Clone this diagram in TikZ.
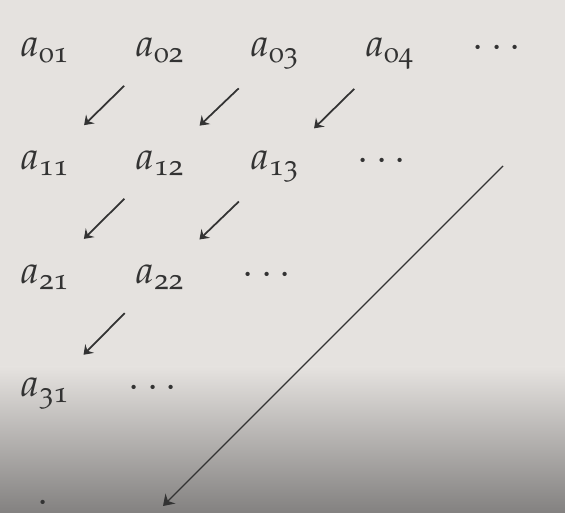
\documentclass[tikz,border=0pt]{standalone}
\usepackage{amsmath, amsfonts, amssymb}
\usepackage{mathpazo}
\usepackage{tikz}
\usetikzlibrary{arrows.meta}
\definecolor{bgtop}{HTML}{E5E2DF}
\definecolor{bgbot}{HTML}{838180}
\definecolor{ink}{HTML}{333333}
\newcommand{\ent}[2]{$a_{\text{\usefont{T1}{pplj}{m}{n}#1#2}}$}
\tikzset{entry/.style={anchor=base west, inner sep=0pt, text=ink, font=\fontsize{22}{26}\selectfont},
  dotsnode/.style={anchor=base, inner sep=0pt, text=ink, font=\fontsize{22}{26}\selectfont},
  diagarrow/.style={draw=ink, line width=1pt, -{Stealth[length=5pt,width=7pt,inset=1.8pt]}, shorten <=1cm, shorten >=1.1cm}}

\begin{document}
\begin{tikzpicture}[x=0.02cm, y=-0.02cm]
\useasboundingbox (0,0) rectangle (565,513);
\fill[bgtop] (0,0) rectangle (565,368);
\shade[top color=bgtop, bottom color=bgbot] (0,367) rectangle (565,513);
% entries
\path (20,57) node[entry] (a01) {\ent{0}{1}};
\path (135,57) node[entry] (a02) {\ent{0}{2}};
\path (250,57) node[entry] (a03) {\ent{0}{3}};
\path (365,57) node[entry] (a04) {\ent{0}{4}};
\path (500,58) node[dotsnode] (dots0) {$\cdots$};
\path (20,170) node[entry] (a11) {\ent{1}{1}};
\path (135,170) node[entry] (a12) {\ent{1}{2}};
\path (250,170) node[entry] (a13) {\ent{1}{3}};
\path (385,171) node[dotsnode] (dots1) {$\cdots$};
\path (20,284) node[entry] (a21) {\ent{2}{1}};
\path (135,284) node[entry] (a22) {\ent{2}{2}};
\path (270,285) node[dotsnode] (dots2) {$\cdots$};
\path (20,397) node[entry] (a31) {\ent{3}{1}};
\path (156,398) node[dotsnode] (dots3) {$\cdots$};
\path (43,512.5) node[dotsnode, text depth=0pt] (vdot) {$\cdot$};
% arrows
\draw[diagarrow] (a02.center) -- (a11.center);
\draw[diagarrow] (a03.center) -- (a12.center);
\draw[diagarrow] (a04.center) -- (a13.center);
\draw[diagarrow] (a12.center) -- (a21.center);
\draw[diagarrow] (a13.center) -- (a22.center);
\draw[diagarrow] (a22.center) -- (a31.center);
\coordinate (farstart) at (503,166);
\coordinate (farend) at (163,506);
\draw[draw=ink, line width=0.8pt, -{Stealth[length=6pt,width=8pt,inset=2pt]}] (farstart) -- (farend);
\end{tikzpicture}
\end{document}
